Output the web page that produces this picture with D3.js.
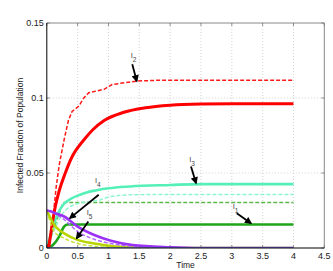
<!DOCTYPE html>
<html>
<head>
<meta charset="utf-8">
<script src="https://cdn.jsdelivr.net/npm/d3@7"></script>
<style>
	body { margin: 0; background: #fff; }
	text { font-family: "Liberation Sans", Arial, sans-serif; }
</style>
</head>
<body>
<div id="chart"></div>
<script>

var xTicks = [0, 0.5, 1, 1.5, 2, 2.5, 3, 3.5, 4, 4.5];
var yTicks = [0, 0.05, 0.1, 0.15];
var yTickLabels = ['0', '0.05', '0.1', '0.15'];

// [time, fraction]
var i2Dash = [[0,0],[0.05,0.006],[0.1,0.02],[0.15,0.04],[0.2,0.055],[0.28,0.072],[0.35,0.085],[0.41,0.091],[0.52,0.0946],[0.6,0.1],[0.68,0.1035],[0.93,0.1058],[1.06,0.109],[1.46,0.1113],[1.8,0.1118],[4,0.1118]];
var i2Solid = [[0.03,0],[0.07,0.011],[0.1,0.019],[0.14,0.028],[0.2,0.038],[0.3,0.05],[0.4,0.06],[0.6,0.072],[0.75,0.079],[0.93,0.085],[1.25,0.0905],[1.6,0.0935],[2,0.0952],[2.5,0.096],[3,0.0962],[4,0.0962]];
var i3Solid = [[0,0],[0.05,0.007],[0.1,0.0143],[0.18,0.023],[0.27,0.029],[0.4,0.033],[0.54,0.0355],[0.66,0.0372],[0.81,0.0385],[1,0.0398],[1.35,0.041],[2,0.042],[2.5,0.0426],[4,0.0426]];
var i3Dash = [[0,0],[0.1,0.01],[0.2,0.019],[0.3,0.025],[0.54,0.03],[0.86,0.032],[1.03,0.0343],[1.4,0.0355],[2,0.0357],[4,0.0357]];
var i1Dash = [[0,0],[0.1,0.011],[0.2,0.023],[0.28,0.0303],[4,0.0303]];
var i1Solid = [[0,0],[0.1,0.002],[0.2,0.0076],[0.28,0.0143],[0.33,0.0157],[4,0.0157]];
var i4Solid = [[0,0.025],[0.06,0.0245],[0.15,0.023],[0.28,0.021],[0.5,0.0143],[0.77,0.0087],[1.04,0.0049],[1.39,0.002],[2,0.0005],[2.5,0],[4,0]];
var i4Dash = [[0,0.025],[0.1,0.0235],[0.28,0.019],[0.5,0.011],[0.77,0.0058],[1.04,0.003],[1.5,0.001],[2.5,0],[4,0]];
var i5Solid = [[0,0.025],[0.06,0.02],[0.12,0.0154],[0.2,0.012],[0.28,0.0098],[0.5,0.0054],[0.77,0.003],[1.04,0.0013],[1.5,0.0003],[2,0],[4,0]];
var i5Dash = [[0,0.025],[0.05,0.018],[0.12,0.011],[0.28,0.0065],[0.5,0.003],[0.8,0.001],[1.2,0],[4,0]];
var blueZero = [[0,0],[4,0]];

// label, label point, arrow start, arrow end  (time, fraction)
var notes = [
	{name: '2', at: [1.36, 0.1268], from: [1.386, 0.1225], to: [1.458, 0.1113]},
	{name: '3', at: [2.31, 0.0575], from: [2.338, 0.0544], to: [2.42, 0.0433]},
	{name: '1', at: [3.014, 0.0262], from: [3.08, 0.0232], to: [3.31, 0.0165]},
	{name: '4', at: [0.78, 0.0432], from: [0.842, 0.0355], to: [0.376, 0.0199]},
	{name: '5', at: [0.647, 0.0222], from: [0.673, 0.0176], to: [0.485, 0.0065]}
];

var series = [
	{data: i1Solid, color: '#1fa51a', width: 2.6, dash: null},
	{data: i1Dash, color: '#5cb84a', width: 1.5, dash: '4,2'},
	{data: i3Dash, color: '#8ff5cf', width: 1.5, dash: '4,2'},
	{data: i3Solid, color: '#55f0b8', width: 2.6, dash: null},
	{data: i2Dash, color: '#ff1a1a', width: 1.5, dash: '4,2', linear: true},
	{data: i2Solid, color: '#ff0000', width: 3, dash: null},
	{data: i5Dash, color: '#c8e23a', width: 1.5, dash: '4,2'},
	{data: i5Solid, color: '#b8d400', width: 2.6, dash: null},
	{data: i4Dash, color: '#b066ff', width: 1.5, dash: '4,2'},
	{data: i4Solid, color: '#9a33f5', width: 2.6, dash: null},
	{data: blueZero, color: '#2848ff', width: 2, dash: null}
];

var svgWidth = 333, svgHeight = 271;
var plotLeft = 46.8, plotRight = 324.3, plotTop = 23, plotBottom = 248;

var x = d3.scaleLinear().domain([0, 4.5]).range([plotLeft, plotRight]);
var y = d3.scaleLinear().domain([0, 0.15]).range([plotBottom, plotTop]);

var svg = d3.select('#chart').append('svg')
	.attr('width', svgWidth)
	.attr('height', svgHeight);

svg.append('rect').attr('width', svgWidth).attr('height', svgHeight).attr('fill', '#fff');

var defs = svg.append('defs');
defs.append('marker')
	.attr('id', 'head')
	.attr('viewBox', '0 0 10 10')
	.attr('refX', 8).attr('refY', 5)
	.attr('markerWidth', 5).attr('markerHeight', 4)
	.attr('orient', 'auto')
	.append('path').attr('d', 'M0,0 L10,5 L0,10 z').attr('fill', '#000');

defs.append('clipPath').attr('id', 'clip')
	.append('rect').attr('x', plotLeft).attr('y', plotTop - 2).attr('width', plotRight - plotLeft).attr('height', plotBottom - plotTop + 1.5);

// grid
var grid = svg.append('g').attr('stroke', '#c8c8c8').attr('stroke-width', 0.8).attr('stroke-dasharray', '1,2');
grid.selectAll('.gx').data(xTicks.slice(1, -1)).enter().append('line')
	.attr('x1', function(d) { return x(d); }).attr('x2', function(d) { return x(d); })
	.attr('y1', plotTop).attr('y2', plotBottom);
grid.selectAll('.gy').data(yTicks.slice(1, -1)).enter().append('line')
	.attr('x1', plotLeft).attr('x2', plotRight)
	.attr('y1', function(d) { return y(d); }).attr('y2', function(d) { return y(d); });

// box
svg.append('line').attr('x1', plotLeft).attr('x2', plotRight).attr('y1', plotTop).attr('y2', plotTop).attr('stroke', '#888');
svg.append('line').attr('x1', plotRight).attr('x2', plotRight).attr('y1', plotTop).attr('y2', plotBottom).attr('stroke', '#888');

// tick marks inside the box
var tk = svg.append('g').attr('stroke', '#777').attr('stroke-width', 0.8);
xTicks.forEach(function(d) {
	tk.append('line').attr('x1', x(d)).attr('x2', x(d)).attr('y1', plotBottom).attr('y2', plotBottom - 3);
	tk.append('line').attr('x1', x(d)).attr('x2', x(d)).attr('y1', plotTop).attr('y2', plotTop + 3);
});
yTicks.forEach(function(d) {
	tk.append('line').attr('x1', plotLeft).attr('x2', plotLeft + 3).attr('y1', y(d)).attr('y2', y(d));
	tk.append('line').attr('x1', plotRight).attr('x2', plotRight - 3).attr('y1', y(d)).attr('y2', y(d));
});

// curves
var smooth = d3.line().x(function(d) { return x(d[0]); }).y(function(d) { return y(d[1]); }).curve(d3.curveMonotoneX);
var straight = d3.line().x(function(d) { return x(d[0]); }).y(function(d) { return y(d[1]); });

var curves = svg.append('g').attr('clip-path', 'url(#clip)');
series.forEach(function(s) {
	curves.append('path')
		.attr('d', s.linear ? straight(s.data) : smooth(s.data))
		.attr('fill', 'none')
		.attr('stroke', s.color)
		.attr('stroke-width', s.width)
		.attr('stroke-dasharray', s.dash);
});

// axes lines
svg.append('line').attr('x1', plotLeft).attr('x2', plotLeft).attr('y1', plotTop).attr('y2', plotBottom).attr('stroke', '#000');
svg.append('line').attr('x1', plotLeft).attr('x2', plotRight).attr('y1', plotBottom).attr('y2', plotBottom).attr('stroke', '#000');

// tick labels
svg.selectAll('.xl').data(xTicks).enter().append('text')
	.attr('x', function(d) { return x(d); })
	.attr('y', plotBottom + 10.5)
	.attr('text-anchor', 'middle')
	.attr('font-size', 9)
	.attr('fill', '#222')
	.text(function(d) { return d; });

svg.selectAll('.yl').data(yTicks).enter().append('text')
	.attr('x', plotLeft - 3)
	.attr('y', function(d) { return y(d) + 3; })
	.attr('text-anchor', 'end')
	.attr('font-size', 9)
	.attr('fill', '#222')
	.text(function(d, i) { return yTickLabels[i]; });

svg.append('text')
	.attr('x', (plotLeft + plotRight) / 2)
	.attr('y', 267.5)
	.attr('text-anchor', 'middle')
	.attr('font-size', 8.5)
	.attr('fill', '#222')
	.text('Time');

svg.append('text')
	.attr('transform', 'translate(23,' + ((plotTop + plotBottom) / 2) + ') rotate(-90)')
	.attr('text-anchor', 'middle')
	.attr('font-size', 8.5)
	.attr('fill', '#222')
	.text('Infected Fraction of Population');

// annotations
notes.forEach(function(n) {
	var t = svg.append('text')
		.attr('x', x(n.at[0]))
		.attr('y', y(n.at[1]))
		.attr('font-size', 7.5)
		.attr('fill', '#444');
	t.append('tspan').text('I');
	t.append('tspan').attr('dy', 4).attr('font-size', 6.5).text(n.name);

	svg.append('line')
		.attr('x1', x(n.from[0])).attr('y1', y(n.from[1]))
		.attr('x2', x(n.to[0])).attr('y2', y(n.to[1]))
		.attr('stroke', '#000')
		.attr('stroke-width', 1.8)
		.attr('marker-end', 'url(#head)');
});

</script>
</body>
</html>
